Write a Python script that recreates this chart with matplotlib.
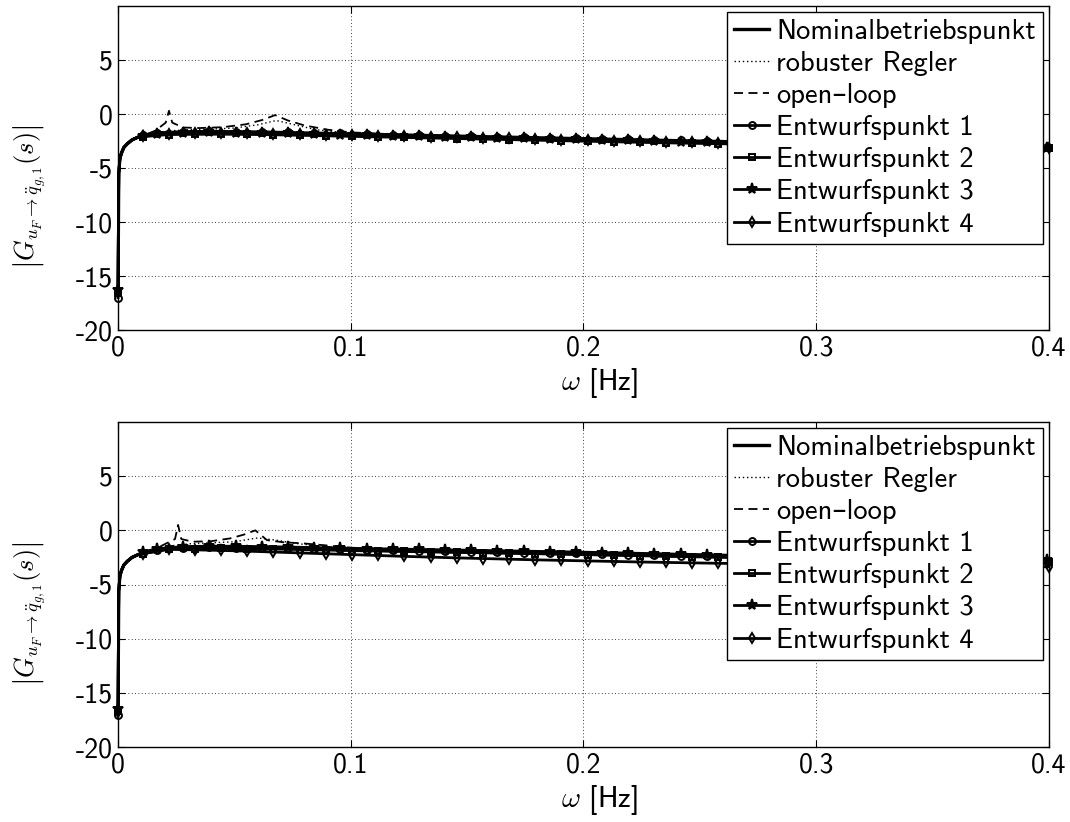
import matplotlib
matplotlib.use('Agg')
import matplotlib.pyplot as plt
import numpy as np

plt.rcParams['font.family'] = ['cmss10', 'DejaVu Sans']
plt.rcParams['mathtext.fontset'] = 'cm'
plt.rcParams['axes.unicode_minus'] = False
plt.rcParams['axes.formatter.use_mathtext'] = False

# marker frequencies [Hz]
freq_a = [0, 0.0107, 0.0168, 0.0280, 0.0393, 0.0505, 0.0618, 0.0730, 0.0843, 0.0955,
          0.1068, 0.1180, 0.1293, 0.1405, 0.1518, 0.1630, 0.1743, 0.1855, 0.1968, 0.2080,
          0.2193, 0.2305, 0.2418, 0.2530, 0.2643, 0.2755, 0.2868, 0.2980, 0.3093, 0.3205,
          0.3318, 0.3430, 0.3543, 0.3655, 0.3768, 0.3880, 0.3993]
freq_b = [0, 0.0107, 0.0218, 0.0330, 0.0443, 0.0555, 0.0668, 0.0780, 0.0893, 0.1005,
          0.1118, 0.1230, 0.1343, 0.1455, 0.1568, 0.1680, 0.1793, 0.1905, 0.2018, 0.2130,
          0.2243, 0.2355, 0.2468, 0.2580, 0.2693, 0.2805, 0.2918, 0.3030, 0.3143, 0.3255,
          0.3368, 0.3480, 0.3593, 0.3705, 0.3818, 0.3930, 0.4000]
# steep rise at low frequency (no markers)
f_rise = [0.0003, 0.0008, 0.0015, 0.0025, 0.004, 0.006, 0.0085]
rise_top = [-5.5, -4.1, -3.6, -3.1, -2.75, -2.4, -2.15]
rise_bot = [-5.6, -4.2, -3.7, -3.2, -2.85, -2.5, -2.25]

# nominal operating point (solid)
nom_f = [0, 0.0107, 0.015, 0.02, 0.03, 0.05, 0.075, 0.1, 0.125, 0.15, 0.175, 0.2,
         0.225, 0.25, 0.275, 0.3, 0.325, 0.35, 0.375, 0.4]
nom_top = [-16.5, -2.0, -1.85, -1.76, -1.71, -1.73, -1.82, -1.93, -2.04, -2.15, -2.26,
           -2.37, -2.48, -2.58, -2.67, -2.76, -2.85, -2.94, -3.03, -3.12]
nom_bot = [-16.6, -2.1, -1.85, -1.7, -1.62, -1.6, -1.66, -1.78, -1.9, -2.0, -2.1,
           -2.2, -2.3, -2.4, -2.48, -2.56, -2.63, -2.7, -2.77, -2.84]

# robust controller (dotted)
rob_f = [0, 0.0107, 0.02, 0.03, 0.04, 0.05, 0.06, 0.068, 0.076, 0.085, 0.1, 0.12, 0.15,
         0.2, 0.25, 0.3, 0.35, 0.4]
rob_top = [-16.5, -2.0, -1.6, -1.45, -1.4, -1.3, -1.0, -0.6, -1.0, -1.45, -1.8, -2.0,
           -2.15, -2.37, -2.58, -2.76, -2.94, -3.12]
rob_bot = [-16.6, -2.1, -1.5, -1.25, -1.15, -1.05, -0.7, -0.9, -1.2, -1.4, -1.65, -1.85,
           -2.0, -2.2, -2.4, -2.56, -2.7, -2.84]

# open loop (dashed)
ol_f_top = [0, 0.0107, 0.016, 0.0205, 0.0219, 0.0233, 0.028, 0.035, 0.045, 0.055, 0.062,
            0.0675, 0.073, 0.08, 0.09, 0.1, 0.12, 0.15, 0.2, 0.25, 0.3, 0.35, 0.4]
ol_top = [-16.5, -2.0, -1.55, -0.8, 0.3, -0.8, -1.25, -1.3, -1.22, -0.95, -0.55,
          -0.1, -0.6, -1.05, -1.45, -1.7, -1.9, -2.1, -2.35, -2.56, -2.75, -2.93, -3.1]
ol_f_bot = [0, 0.0107, 0.018, 0.0245, 0.0258, 0.0272, 0.032, 0.04, 0.048, 0.054,
            0.059, 0.064, 0.071, 0.0795, 0.09, 0.1, 0.12, 0.15, 0.2, 0.25, 0.3, 0.35, 0.4]
ol_bot = [-16.6, -2.1, -1.5, -0.8, 0.5, -0.8, -1.05, -1.0, -0.75, -0.4, 0.0, -0.9,
          -1.1, -1.2, -1.4, -1.6, -1.8, -1.95, -2.15, -2.38, -2.55, -2.7, -2.84]

# design points, top panel
e1_top = [-17.0, -1.95, -1.75, -1.62, -1.6, -1.62, -1.65, -1.7, -1.75, -1.8, -1.85,
          -1.9, -1.95, -2.0, -2.05, -2.1, -2.15, -2.2, -2.25, -2.3, -2.35, -2.4, -2.45,
          -2.5, -2.54, -2.58, -2.62, -2.66, -2.7, -2.74, -2.78, -2.82, -2.86, -2.9,
          -2.94, -2.98, -3.02]
e2_top = [-16.6, -2.1, -1.9, -1.88, -1.87, -1.89, -1.92, -1.97, -2.02, -2.07, -2.12,
          -2.17, -2.22, -2.27, -2.32, -2.37, -2.42, -2.47, -2.52, -2.57, -2.62, -2.67,
          -2.71, -2.75, -2.79, -2.83, -2.87, -2.91, -2.95, -2.98, -3.01, -3.04, -3.07,
          -3.1, -3.12, -3.14, -3.15]
e3_top = [-16.3, -2.0, -1.85, -1.72, -1.7, -1.72, -1.75, -1.8, -1.85, -1.9, -1.95,
          -2.0, -2.05, -2.1, -2.15, -2.2, -2.25, -2.3, -2.35, -2.4, -2.45, -2.5, -2.55,
          -2.6, -2.64, -2.68, -2.72, -2.76, -2.8, -2.84, -2.88, -2.92, -2.96, -3.0,
          -3.04, -3.08, -3.12]
e4_top = [-16.4, -2.05, -1.85, -1.78, -1.76, -1.78, -1.81, -1.86, -1.91, -1.96, -2.01,
          -2.06, -2.11, -2.16, -2.21, -2.26, -2.31, -2.36, -2.41, -2.46, -2.51, -2.56,
          -2.6, -2.64, -2.68, -2.72, -2.76, -2.8, -2.84, -2.88, -2.92, -2.96, -3.0,
          -3.04, -3.08, -3.12, -3.15]

# design points, bottom panel
e1_bot = [-17.0, -2.1, -1.8, -1.62, -1.58, -1.59, -1.62, -1.66, -1.71, -1.76, -1.81,
          -1.85, -1.89, -1.93, -1.97, -2.01, -2.05, -2.09, -2.13, -2.18, -2.23, -2.28,
          -2.33, -2.38, -2.43, -2.47, -2.51, -2.55, -2.59, -2.63, -2.66, -2.69, -2.72,
          -2.75, -2.78, -2.81, -2.84]
e2_bot = [-16.7, -2.15, -1.72, -1.68, -1.66, -1.68, -1.72, -1.77, -1.82, -1.87, -1.91,
          -1.95, -1.99, -2.03, -2.07, -2.11, -2.15, -2.19, -2.24, -2.29, -2.34, -2.39,
          -2.44, -2.48, -2.52, -2.56, -2.6, -2.64, -2.68, -2.71, -2.74, -2.77, -2.8,
          -2.83, -2.86, -2.88, -2.9]
e3_bot = [-16.5, -2.0, -1.7, -1.5, -1.46, -1.47, -1.5, -1.54, -1.59, -1.64, -1.68,
          -1.72, -1.76, -1.8, -1.84, -1.88, -1.92, -1.96, -2.0, -2.05, -2.1, -2.15,
          -2.2, -2.25, -2.3, -2.34, -2.38, -2.42, -2.46, -2.5, -2.54, -2.58, -2.62,
          -2.66, -2.7, -2.74, -2.78]
e4_bot = [-16.8, -2.15, -1.75, -1.8, -1.85, -1.92, -2.0, -2.08, -2.16, -2.24, -2.32,
          -2.4, -2.47, -2.54, -2.6, -2.66, -2.72, -2.77, -2.82, -2.87, -2.92, -2.96,
          -3.0, -3.04, -3.07, -3.1, -3.13, -3.16, -3.19, -3.22, -3.24, -3.26, -3.28,
          -3.3, -3.32, -3.34, -3.36]

legend_labels = ['Nominalbetriebspunkt', 'robuster Regler', 'open\u2013loop',
                 'Entwurfspunkt 1', 'Entwurfspunkt 2', 'Entwurfspunkt 3', 'Entwurfspunkt 4']
ylabel = r'$\left|G_{u_F\rightarrow \ddot{q}_{g,1}}(s)\right|$'

fig = plt.figure(figsize=(10.7, 8.22), dpi=100)
ax_top = fig.add_axes([0.1103, 0.5985, 0.8700, 0.3942])
ax_bot = fig.add_axes([0.1103, 0.0912, 0.8700, 0.3954])


def with_rise(freq, vals, rise):
    # insert the low-frequency rise between the first two samples
    x = [freq[0]] + f_rise + list(freq[1:])
    y = [vals[0]] + rise + list(vals[1:])
    me = [0] + list(range(len(f_rise) + 1, len(x)))
    return x, y, me


def draw(ax, nom, rob, olf, ol, rise, e1, e2, e3, e4):
    x, y, _ = with_rise(nom_f, nom, rise)
    ax.plot(x, y, color='black', lw=2.4, label=legend_labels[0], zorder=5)
    x, y, _ = with_rise(rob_f, rob, rise)
    ax.plot(x, y, color='black', lw=1.0, ls=(0, (1, 2)), label=legend_labels[1])
    x, y, _ = with_rise(olf, ol, rise)
    ax.plot(x, y, color='black', lw=1.3, ls=(0, (5, 3)), label=legend_labels[2])
    styles = [(freq_a, e1, 'o', 'none'), (freq_b, e2, 's', 'none'),
              (freq_a, e3, '*', 'black'), (freq_b, e4, 'd', 'none')]
    for i, (fr, vals, mk, mfc) in enumerate(styles):
        x, y, me = with_rise(fr, vals, rise)
        ms = 8 if mk == '*' else 5
        ax.plot(x, y, color='black', lw=2.0, marker=mk, ms=ms, mfc=mfc, mew=1.4,
                markevery=me, label=legend_labels[3 + i], clip_on=False, zorder=4)

    ax.set_xlim(0, 0.4)
    ax.set_ylim(-20, 10)
    ax.set_xticks([0, 0.1, 0.2, 0.3, 0.4])
    ax.set_xticklabels(['0', '0.1', '0.2', '0.3', '0.4'])
    ax.set_yticks([-20, -15, -10, -5, 0, 5])
    ax.grid(True, color='black', ls=(0, (1, 3)), lw=0.6)
    ax.tick_params(direction='in', top=True, right=True, length=5, labelsize=20,
                   width=0.8, pad=4)
    for s in ax.spines.values():
        s.set_linewidth(1.0)
    ax.set_xlabel(r'$\omega$ [Hz]', fontsize=21)
    ax.xaxis.set_label_coords(0.517, -0.108)
    ax.set_ylabel(ylabel, fontsize=19)
    ax.yaxis.set_label_coords(-0.075, 0.41)
    leg = ax.legend(loc='upper right', fontsize=20.5, handlelength=1.25,
                    handletextpad=0.25, labelspacing=0.25, borderaxespad=0.2,
                    borderpad=0.25, fancybox=False, framealpha=1, edgecolor='black')
    leg.get_frame().set_linewidth(1.0)
    leg.set_zorder(10)


draw(ax_top, nom_top, rob_top, ol_f_top, ol_top, rise_top, e1_top, e2_top, e3_top, e4_top)
draw(ax_bot, nom_bot, rob_bot, ol_f_bot, ol_bot, rise_bot, e1_bot, e2_bot, e3_bot, e4_bot)

fig.savefig('out.png', dpi=100)
